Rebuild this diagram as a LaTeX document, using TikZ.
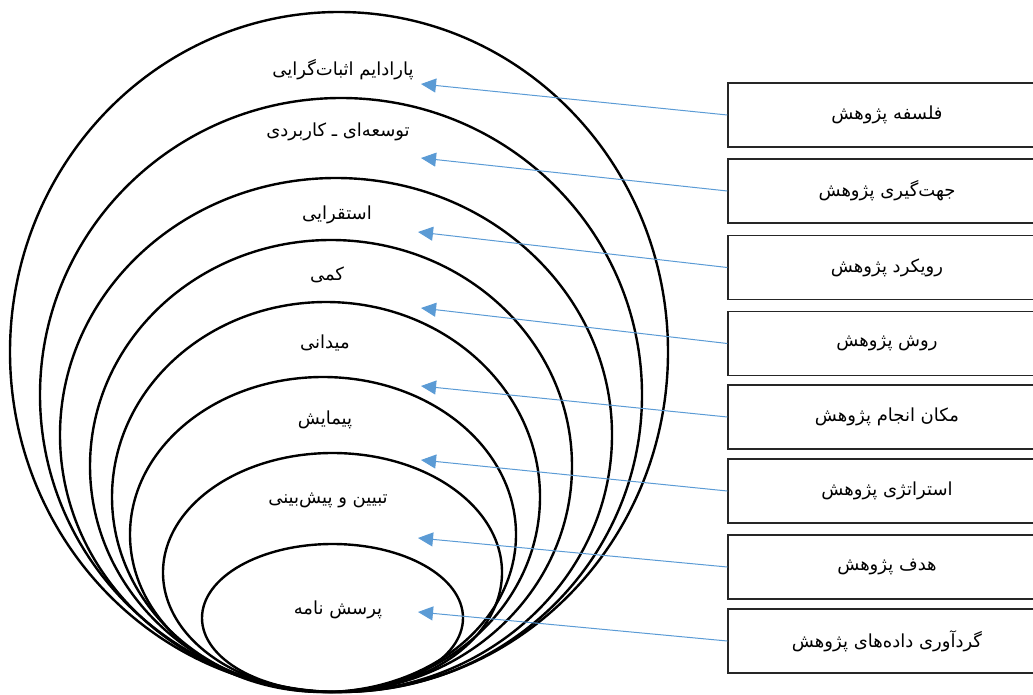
\documentclass[tikz,border=0pt]{standalone}
\usepackage{fontspec}
\newfontfamily\fa[Script=Arabic]{DejaVu Sans}
\TeXXeTstate=1
\usetikzlibrary{arrows.meta}
\definecolor{arrblue}{HTML}{5B9BD5}
\begin{document}
\begin{tikzpicture}[x=1pt,y=-1pt,
  ring/.style={draw=black,line width=2.4pt},
  lab/.style={font=\fa\fontsize{18}{21}\selectfont, inner sep=0pt},
  boxnode/.style={draw=black!85,line width=1.4pt,minimum width=318pt,minimum height=64pt,inner sep=0pt,font=\fa\fontsize{18}{21}\selectfont},
  conn/.style={draw=arrblue,line width=1pt,-{Triangle[length=15pt,width=14pt]}}]
\useasboundingbox (0,0) rectangle (1033,695);
% nested ellipses
\draw[ring] (339,352) ellipse [x radius=329pt, y radius=340pt];
\draw[ring] (341,395) ellipse [x radius=301pt, y radius=297pt];
\draw[ring] (336,435) ellipse [x radius=276pt, y radius=257pt];
\draw[ring] (331,466) ellipse [x radius=241pt, y radius=226pt];
\draw[ring] (326,497) ellipse [x radius=214pt, y radius=195pt];
\draw[ring] (323,534.5) ellipse [x radius=193pt, y radius=157.5pt];
\draw[ring] (332.5,572.5) ellipse [x radius=169.5pt, y radius=119.5pt];
\draw[ring] (332.5,618) ellipse [x radius=130.5pt, y radius=74pt];
% labels in rings
\node[lab] (e1) at (343,70) {\beginR پارادایم اثبات‌گرایی\endR};
\node[lab] (e2) at (338,132) {\beginR توسعه‌ای ـ کاربردی\endR};
\node[lab] (e3) at (337,215) {\beginR استقرایی\endR};
\node[lab] (e4) at (327,275) {\beginR کمی\endR};
\node[lab] (e5) at (325,343) {\beginR میدانی\endR};
\node[lab] (e6) at (325,420) {\beginR پیمایش\endR};
\node[lab] (e7) at (328,500) {\beginR تبیین و پیش‌بینی\endR};
\node[lab] (e8) at (338,610) {\beginR پرسش نامه\endR};
% boxes
\node[boxnode] (b1) at (887,115) {\beginR فلسفه پژوهش\endR};
\node[boxnode] (b2) at (887,191) {\beginR جهت‌گیری پژوهش\endR};
\node[boxnode] (b3) at (887,267.5) {\beginR رویکرد پژوهش\endR};
\node[boxnode] (b4) at (887,343.5) {\beginR روش پژوهش\endR};
\node[boxnode] (b5) at (887,417) {\beginR مکان انجام پژوهش\endR};
\node[boxnode] (b6) at (887,491) {\beginR استراتژی پژوهش\endR};
\node[boxnode] (b7) at (887,567) {\beginR هدف پژوهش\endR};
\node[boxnode] (b8) at (887,641) {\beginR گردآوری داده‌های پژوهش\endR};
% arrow tips
\coordinate (t1) at (421,84);
\coordinate (t2) at (421,158);
\coordinate (t3) at (418,232);
\coordinate (t4) at (421,308);
\coordinate (t5) at (421,386);
\coordinate (t6) at (421,460);
\coordinate (t7) at (418,538);
\coordinate (t8) at (418,612);
\foreach \i in {1,...,8} {\draw[conn] (b\i.west) -- (t\i);}
\end{tikzpicture}
\end{document}
